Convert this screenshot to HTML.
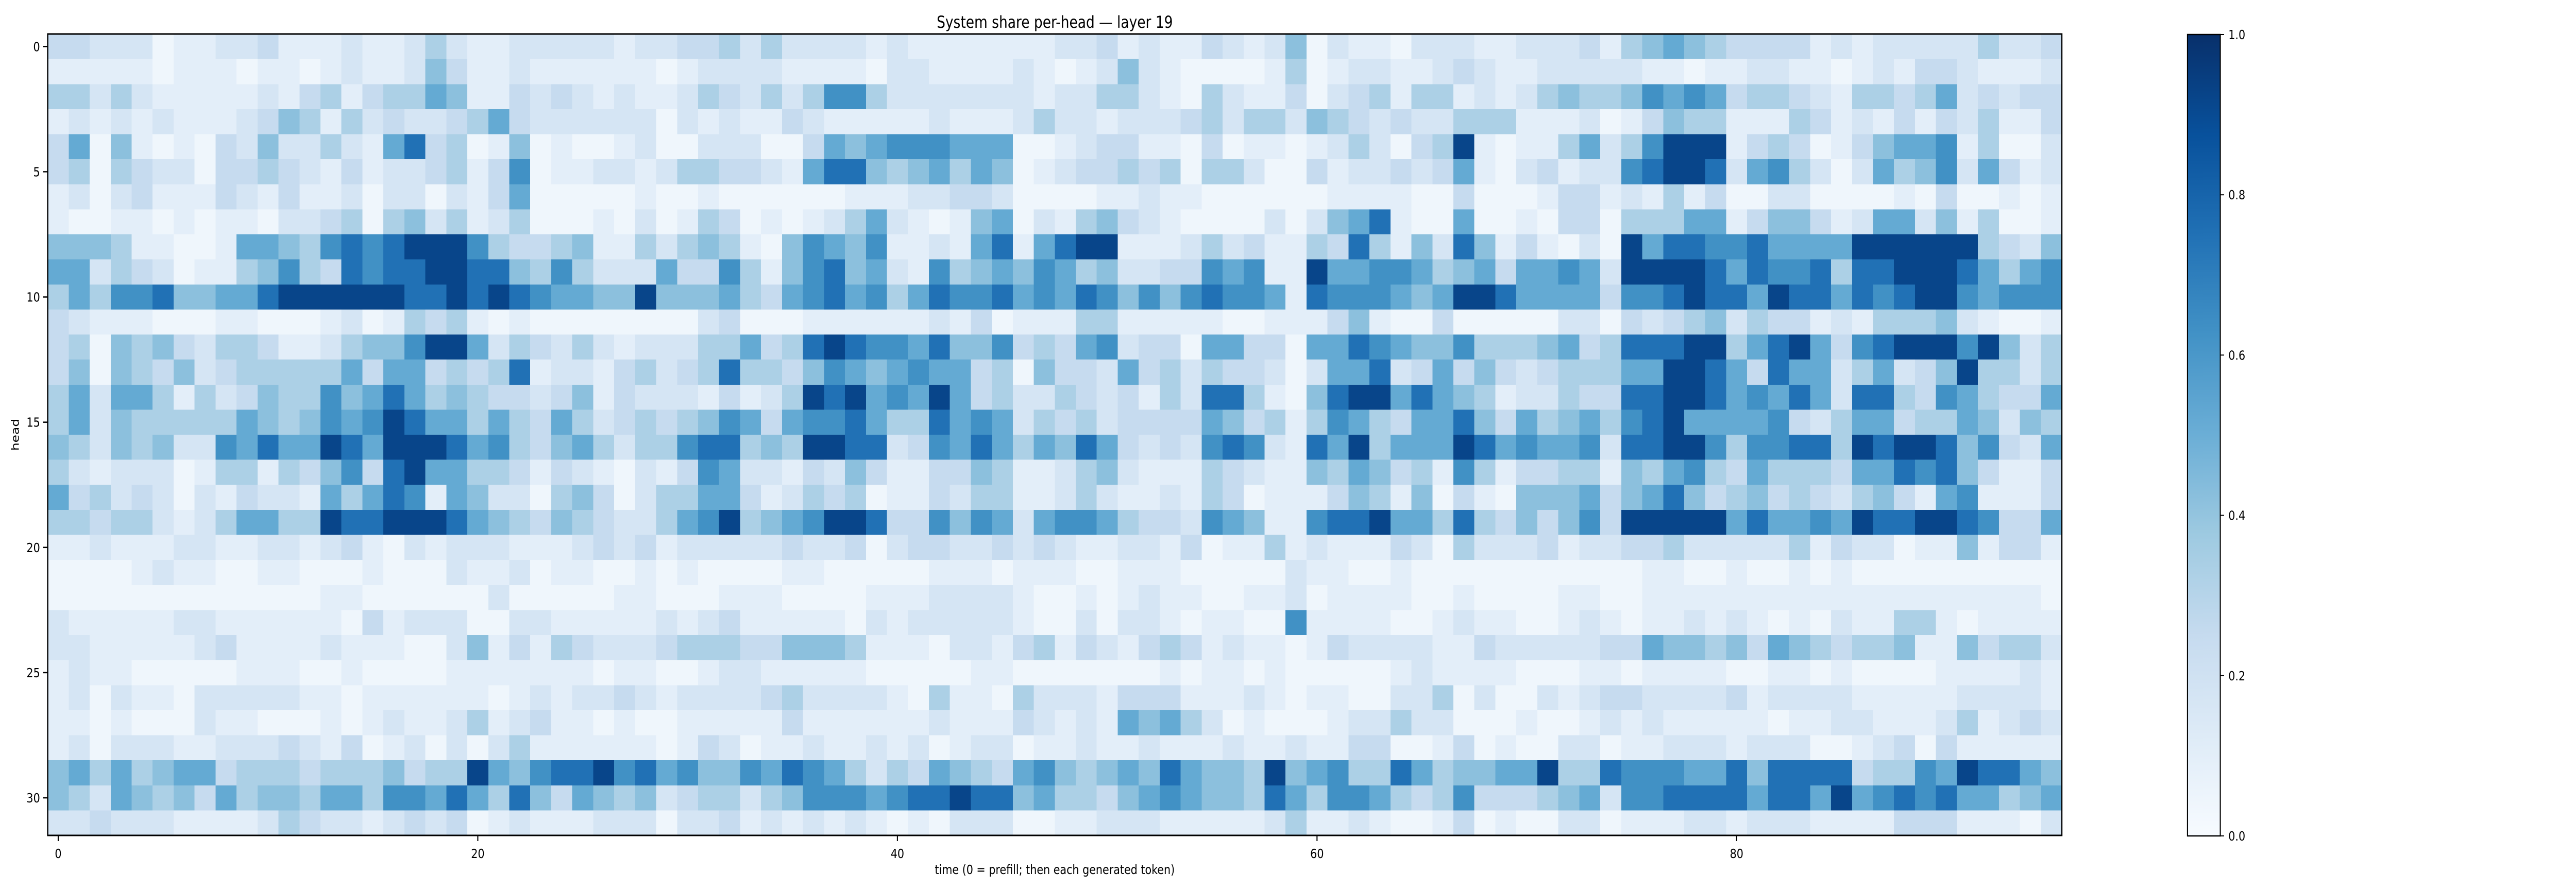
<!DOCTYPE html>
<html><head><meta charset="utf-8">
<style>
html,body{margin:0;padding:0;background:#fff;overflow:hidden;width:100%;height:100%;}
svg{display:block;position:fixed;left:0;top:0;width:100vw;height:100vh;font-family:"DejaVu Sans","Liberation Sans",sans-serif;}
</style></head>
<body>
<svg id="chart" viewBox="0 0 6047 1728" preserveAspectRatio="none" xmlns="http://www.w3.org/2000/svg">
<defs>
<linearGradient id="cbgrad" x1="0" y1="1" x2="0" y2="0">
<stop offset="0" stop-color="#f7fbff"/><stop offset="0.125" stop-color="#deebf7"/><stop offset="0.25" stop-color="#c6dbef"/><stop offset="0.375" stop-color="#9ecae1"/><stop offset="0.5" stop-color="#6baed6"/><stop offset="0.625" stop-color="#4292c6"/><stop offset="0.75" stop-color="#2171b5"/><stop offset="0.875" stop-color="#08519c"/><stop offset="1" stop-color="#08306b"/>
</linearGradient>
</defs>
<text x="2476" y="54" font-size="32" text-anchor="middle" fill="#000">System share per-head — layer 19</text>
<g id="cells" shape-rendering="crispEdges"></g>
<rect x="112" y="66" width="4728" height="1556" fill="none" stroke="#000" stroke-width="3"/>
<g id="xaxis"></g>
<g id="yaxis"></g>
<text x="2476" y="1697" font-size="25" text-anchor="middle" fill="#000">time (0 = prefill; then each generated token)</text>
<text x="0" y="0" font-size="25" text-anchor="middle" fill="#000" transform="translate(44,844) rotate(-90)">head</text>
<rect x="5135" y="67" width="77" height="1556" fill="url(#cbgrad)" stroke="#000" stroke-width="2.5"/>
<g id="cbaxis"></g>
</svg>
<script>
const levelValues = [0.04,0.10,0.17,0.25,0.33,0.42,0.52,0.63,0.75,0.92];
const rows = [
"332220112231112112421122"+"222122334242222121111111"+"223121132125021102221122"+"231456543333121222224223",
"111110111011012112531121"+"111110122221111022111121"+"012521000014012211232112"+"222211011221101213321112",
"442421111121341344651132"+"321211243242477422222221"+"224421042113023414412124"+"544576763443214434623233",
"121212111235414232234632"+"222220212113211111211124"+"221222342442543232244411"+"120135441114312131324113",
"360510103252242168340150"+"100120022200365677766600"+"123311030110124203491011"+"462479991343013566714002",
"340432203343213122341370"+"112212443321688545646501"+"233434044200312232361023"+"122789982674202645726312",
"120231113213112022021360"+"000010010000001112233200"+"001121100000011110030001"+"331214130022000010300101",
"100110101102234045241240"+"001020143010124621015602"+"145321000020256810060010"+"330444661355312662514001",
"555411001665478789997433"+"451142454105765711216816"+"899111242311438415285131"+"020968877866669999994325",
"662432011457438788998854"+"742226337415785621745657"+"645223376711966776456366"+"762999986877848899986467",
"464778556689999998898987"+"665595556436786746877867"+"687575787761877765699866"+"663778988698868789976777",
"321110001100012014341010"+"000000023000111111213011"+"144111110011135100300000"+"220323452433121444521001",
"340545324431124557996243"+"242122244634898776855734"+"367233066330668765574445"+"634888994689637899979524",
"350543523444446366343481"+"221342348443576567663405"+"332634243320266823635323"+"444669986386624623594424",
"462664142354475686454332"+"351322213124989676963422"+"432314288410589968654122"+"433889986768628843764336",
"462544444654576798664643"+"642343457636778644867624"+"342333365341476436685364"+"564789666673246634465254",
"542545227686698699986743"+"564244788454998823768646"+"586323278721869466698676"+"672889974778849899857326",
"421222014414357389664431"+"321021376221325311335411"+"245211143211546534174133"+"441546743644436687853113",
"634232021322164687165220"+"453024466312434011324411"+"242112143011135415031055"+"563568534534324531671113",
"443442124664498899986543"+"543224679456799833757626"+"776433276511788966484353"+"573999996866769889987336",
"112111221122123102122211"+"123231222223223023322323"+"211221301141211132042223"+"122334222224132201151331",
"000012110011000100021120"+"110010100001100000111011"+"100111000002110010000000"+"000011001001010000000000",
"000000000000011000000200"+"000110001110000111222210"+"010121100112011110010000"+"110011111111111111111110",
"211111221111110312220022"+"111112123111110212222210"+"020221011007111100121100"+"121011212101021144101111",
"221111123111121110025131"+"432223444335554111022134"+"132134312110132222113222"+"223365545365434451153442",
"121100000111001000011111"+"110110012211111000001100"+"000001011010000012111100"+"011011110011010000111121",
"120211022222110111111012"+"122321222234222210411042"+"221333111210110022402002"+"123322223122221111122221",
"110100021100010121124123"+"110100111113111111211132"+"121656420100012242200010"+"012121111101122111241232",
"120222112223213012020241"+"111110132011211212012201"+"121121112112113300130100"+"220112221222001230311111",
"564645663444344453449657"+"889786755768764243654367"+"545658655495674486455669"+"448777668588883447698865",
"542654536455466477686485"+"365452344245777678898856"+"443567655486477643473334"+"562778888688696787866456",
"223222111124322123230121"+"112220223121212101022200"+"112221111124112100130100"+"220111221222111133311102"
];
const xTicks = [0,20,40,60,80];
const yTicks = [0,5,10,15,20,25,30];
const cbTicks = [0.0,0.2,0.4,0.6,0.8,1.0];
const cbTickLabels = ["0.0","0.2","0.4","0.6","0.8","1.0"];

const NS="http://www.w3.org/2000/svg";
const X0=112,X1=4840,Y0=66,Y1=1622;
const nCols=rows[0].length,nRows=rows.length;
const cw=(X1-X0)/nCols,ch=(Y1-Y0)/nRows;
const xPos=c=>X0+c*cw;
const yPos=r=>Y0+r*ch;
const stops=["#f7fbff","#deebf7","#c6dbef","#9ecae1","#6baed6","#4292c6","#2171b5","#08519c","#08306b"].map(h=>[1,3,5].map(i=>parseInt(h.substr(i,2),16)));
function blues(v){v=Math.max(0,Math.min(1,v));const t=v*8,i=Math.min(7,Math.floor(t)),f=t-i;const a=stops[i],b=stops[i+1];return "rgb("+a.map((x,k)=>Math.round(x+(b[k]-x)*f)).join(",")+")";}
const cells=document.getElementById("cells");
for(let r=0;r<nRows;r++){for(let c=0;c<nCols;c++){
const v=levelValues[+rows[r][c]];
const el=document.createElementNS(NS,"rect");
el.setAttribute("x",xPos(c));el.setAttribute("y",yPos(r));
el.setAttribute("width",cw+0.6);el.setAttribute("height",ch+0.6);
el.setAttribute("fill",blues(v));


cells.appendChild(el);}}
const xa=document.getElementById("xaxis");
xTicks.forEach(t=>{const x=xPos(t)+cw/2;
const l=document.createElementNS(NS,"line");l.setAttribute("x1",x);l.setAttribute("x2",x);l.setAttribute("y1",Y1);l.setAttribute("y2",Y1+11);l.setAttribute("stroke","#000");l.setAttribute("stroke-width","2.5");


xa.appendChild(l);
const tx=document.createElementNS(NS,"text");tx.setAttribute("x",x);tx.setAttribute("y",Y1+44);tx.setAttribute("font-size","25");tx.setAttribute("text-anchor","middle");tx.textContent=t;


xa.appendChild(tx);});
const ya=document.getElementById("yaxis");
yTicks.forEach(t=>{const y=yPos(t)+ch/2;
const l=document.createElementNS(NS,"line");l.setAttribute("x1",X0-11);l.setAttribute("x2",X0);l.setAttribute("y1",y);l.setAttribute("y2",y);l.setAttribute("stroke","#000");l.setAttribute("stroke-width","2.5");


ya.appendChild(l);
const tx=document.createElementNS(NS,"text");tx.setAttribute("x",X0-18);tx.setAttribute("y",y+9);tx.setAttribute("font-size","25");tx.setAttribute("text-anchor","end");tx.textContent=t;


ya.appendChild(tx);});
const cb=document.getElementById("cbaxis");
const CB0=1623,CB1=67;
cbTicks.forEach((t,i)=>{const y=CB0-t*(CB0-CB1);
const l=document.createElementNS(NS,"line");l.setAttribute("x1",5212);l.setAttribute("x2",5221);l.setAttribute("y1",y);l.setAttribute("y2",y);l.setAttribute("stroke","#000");l.setAttribute("stroke-width","2");


cb.appendChild(l);
const tx=document.createElementNS(NS,"text");tx.setAttribute("x",5231);tx.setAttribute("y",y+9);tx.setAttribute("font-size","25");tx.textContent=cbTickLabels[i];


cb.appendChild(tx);});
</script>
</body></html>
